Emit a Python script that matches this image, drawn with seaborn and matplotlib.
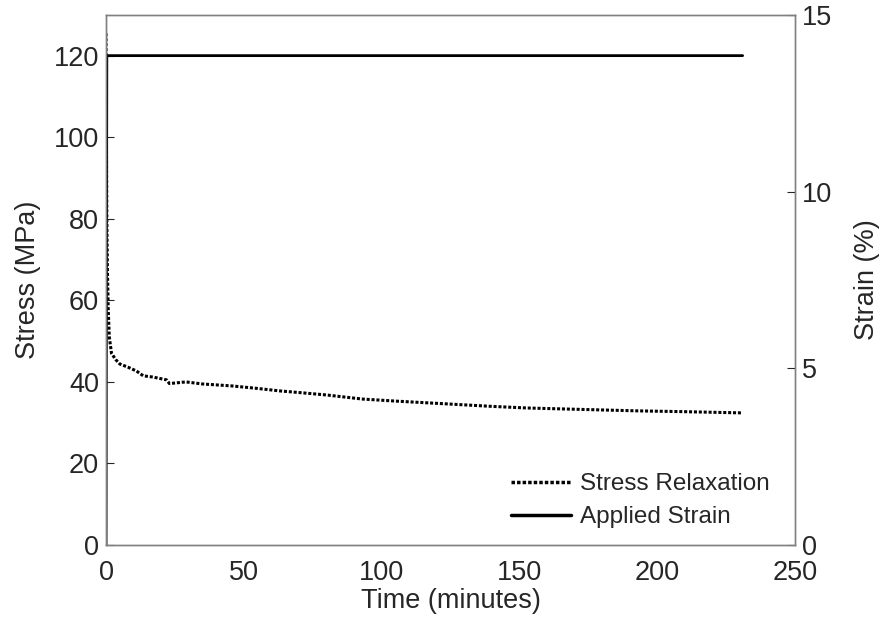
import matplotlib
matplotlib.use("Agg")
import matplotlib.pyplot as plt
import seaborn as sns
import pandas as pd
from matplotlib.lines import Line2D

# Data
stress_time = [0, 0.1, 0.2, 0.3, 0.5, 0.8, 1.2, 2, 3.5, 5, 8, 11, 13.5, 17, 22, 23,
               26, 29, 35, 46, 55, 63, 70, 80, 93, 105, 124, 140, 153, 170, 193, 210, 231]
stress_mpa = [125.5, 110, 95, 80, 68, 58, 51, 47, 45.5, 44.4, 43.6, 42.7, 41.5, 41.2, 40.5, 39.6,
              39.8, 40, 39.5, 39, 38.4, 37.8, 37.4, 36.8, 35.8, 35.3, 34.6, 34, 33.6, 33.3, 32.9, 32.7, 32.4]
strain_time = [0, 0.3, 231]
strain_pct = [0, 13.85, 13.85]

x_ticks = [0, 50, 100, 150, 200, 250]
y_ticks = [0, 20, 40, 60, 80, 100, 120]
y2_ticks = [0, 5, 10, 15]

sns.set_theme(style="white")
plt.rcParams['font.family'] = ['Liberation Sans', 'DejaVu Sans']
plt.rcParams['text.color'] = '#262626'

fig = plt.figure(figsize=(8.81, 6.37), dpi=100)
ax = fig.add_axes([106/881, 1-545/637, (795-106)/881, (545-15)/637])
ax2 = ax.twinx()

df_s = pd.DataFrame({"t": stress_time, "s": stress_mpa})
df_e = pd.DataFrame({"t": strain_time, "e": strain_pct})

sns.lineplot(data=df_s, x="t", y="s", ax=ax, color="black", lw=2.2,
             linestyle=(0, (1, 0.6)), legend=False)
sns.lineplot(data=df_e, x="t", y="e", ax=ax2, color="black", lw=2.0, legend=False)

ax.set_xlim(0, 250)
ax.set_ylim(0, 130)
ax2.set_ylim(0, 15)
ax.set_xticks(x_ticks)
ax.set_yticks(y_ticks)
ax2.set_yticks(y2_ticks)

fs = 19.5
for a in (ax, ax2):
    a.tick_params(direction="in", length=6, width=0.8, colors="#262626",
                  labelsize=fs, pad=5)
    for sp in a.spines.values():
        sp.set_color("#808080")
        sp.set_linewidth(1.0)
ax.tick_params(axis="x", pad=11)

ax.set_xlabel("Time (minutes)", fontsize=fs, color="#262626", labelpad=1)
ax.set_ylabel("Stress (MPa)", fontsize=fs, color="#262626", labelpad=9)
ax2.set_ylabel("Strain (%)", fontsize=fs, color="#262626", labelpad=16)

handles = [Line2D([], [], color="black", lw=2.5, linestyle=(0, (1, 0.6))),
           Line2D([], [], color="black", lw=2.5)]
ax2.legend(handles, ["Stress Relaxation", "Applied Strain"], loc="lower right",
           frameon=False, fontsize=17.5, handlelength=2.5, handletextpad=0.35,
           labelspacing=0.45, bbox_to_anchor=(0.995, -0.01), labelcolor="#262626")

fig.savefig("out.png", dpi=100)
